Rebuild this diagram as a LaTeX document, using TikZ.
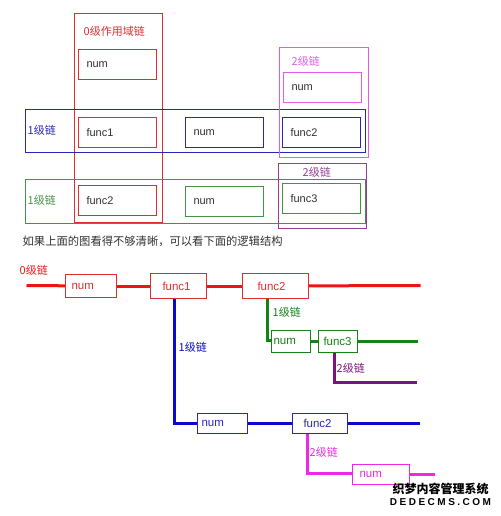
\documentclass[tikz,border=0pt]{standalone}
\usepackage{fontspec}
\setmainfont{Liberation Sans}
\newfontfamily\cjk{Noto Sans CJK SC}
\newfontfamily\wmfont[LetterSpace=25]{Liberation Sans}
\definecolor{rbox}{RGB}{225,45,50}
\definecolor{rline}{RGB}{238,20,20}
\definecolor{bbox}{RGB}{40,40,180}
\definecolor{bline}{RGB}{10,10,205}
\definecolor{gbox}{RGB}{70,145,70}
\definecolor{gline}{RGB}{20,130,20}
\definecolor{mbox}{RGB}{232,90,232}
\definecolor{mline}{RGB}{240,40,225}
\definecolor{pbox}{RGB}{150,60,150}
\definecolor{pline}{RGB}{125,20,125}
\definecolor{txt}{RGB}{50,50,50}
\begin{document}
\begin{tikzpicture}[x=1pt,y=-1pt,
  framebox/.style={draw=#1, line width=1pt, inner sep=0pt, anchor=north west},
  topbox/.style={draw=#1, fill=white, line width=1pt, inner xsep=8pt, inner ysep=0pt,
     minimum height=30pt, text width=62pt, align=left, font=\fontsize{11}{13}\selectfont, text=txt},
  sbox/.style n args={4}{draw=#1, fill=white, text=#1, line width=1pt, text width=#2, inner xsep=#3,
     inner ysep=0pt, minimum height=#4, align=left, font=\fontsize{11.5}{13}\selectfont},
  lbl/.style={font=\cjk\fontsize{11}{12}\selectfont, inner sep=0pt, anchor=west},
  chain/.style={line width=3pt, #1}
]
\useasboundingbox (0,0) rectangle (500,516);
\begin{scope}[shift={(0.5,0.5)}]
% ---------- upper picture ----------
\node[framebox=rbox, minimum width=88pt, minimum height=208pt] (f0) at (73,13) {};
\node[framebox=bbox, minimum width=340pt, minimum height=42pt] (f1b) at (24,109) {};
\node[framebox=gbox, minimum width=340pt, minimum height=44pt] (f1g) at (24,178) {};
\node[framebox=mbox, minimum width=89pt, minimum height=109pt] (f2m) at (278,47) {};
\node[framebox=pbox, minimum width=88pt, minimum height=65pt] (f2p) at (277,162) {};

\node[lbl, text=rbox] (t0) at (83,31) {0级作用域链};
\node[lbl, text=bbox] (t1b) at (27,130) {1级链};
\node[lbl, text=gbox] (t1g) at (27,200) {1级链};
\node[lbl, text=mbox] (t2m) at (291,61) {2级链};
\node[lbl, text=pbox] (t2p) at (302,172) {2级链};

\node[topbox=rbox] (a1) at (117,64) {num};
\node[topbox=rbox] (a2) at (117,132) {func1};
\node[topbox=bbox] (a3) at (224,132) {num};
\node[topbox=bbox] (a4) at (321,132) {func2};
\node[topbox=mbox] (a5) at (322,87) {num};
\node[topbox=rbox] (a6) at (117,200) {func2};
\node[topbox=gbox] (a7) at (224,201) {num};
\node[topbox=gbox] (a8) at (321,198) {func3};

\node[font=\cjk\fontsize{11.3}{13}\selectfont, text=txt, anchor=west, inner sep=0pt] (cap) at (22,241) {如果上面的图看得不够清晰，可以看下面的逻辑结构};

% ---------- lower picture ----------
\node[lbl, text=rline] (b0) at (19,270) {0级链};
\node[lbl, text=bline] (b1) at (178,347) {1级链};
\node[lbl, text=gline] (b2) at (272,312) {1级链};
\node[lbl, text=pline] (b3) at (336,368) {2级链};
\node[lbl, text=mline] (b4) at (309,452) {2级链};

\coordinate (r0) at (26,285);
\coordinate (r1) at (420,285);
\coordinate (bl1) at (419,423);
\coordinate (gl1) at (417,341);
\coordinate (pl1) at (416,382);
\coordinate (ml1) at (434,474);

\node[sbox={rbox}{39pt}{6pt}{23pt}] (rn) at (90.5,285.5) {num};
\node[sbox={rbox}{32pt}{12pt}{25pt}] (rf1) at (178,285.5) {func1};
\node[sbox={rbox}{36pt}{15pt}{25pt}] (rf2) at (275,285.5) {func2};
\node[sbox={bbox}{42pt}{4pt}{20pt}] (bn) at (222,423) {num};
\node[sbox={bbox}{33pt}{11pt}{20pt}] (bf2) at (319.5,423) {func2};
\node[sbox={gline}{35pt}{2pt}{22pt}] (gn) at (290.5,341) {num};
\node[sbox={gline}{29pt}{5pt}{22pt}] (gf3) at (337.5,341) {func3};
\node[sbox={mline}{43pt}{7pt}{20pt}] (mn) at (380.5,474) {num};

\draw[chain=rline] (r0) -- (rn);
\draw[chain=rline] (rn) -- (rf1);
\draw[chain=rline] (rf1) -- (rf2);
\draw[chain=rline] (rf2) -- (r1);
\draw[chain=bline] ([xshift=-4pt]rf1.south) |- (bn.west);
\draw[chain=bline] (bn) -- (bf2);
\draw[chain=bline] (bf2) -- (bl1);
\draw[chain=gline] ([xshift=-8pt]rf2.south) |- ([yshift=1.5pt]gn.west);
\draw[chain=gline] (gn) -- (gf3);
\draw[chain=gline] (gf3) -- (gl1);
\draw[chain=pline] ([xshift=-4pt]gf3.south) |- (pl1);
\draw[chain=mline] ([xshift=-13pt]bf2.south) |- ([yshift=1pt]mn.west);
\draw[chain=mline] (mn) -- (ml1);

% watermark
\node[font=\cjk\bfseries\fontsize{12}{14}\selectfont, inner sep=0pt] (wm1) at (440,488) {织梦内容管理系统};
\node[font=\wmfont\bfseries\fontsize{10}{12}\selectfont, inner sep=0pt] (wm2) at (440,502) {DEDECMS.COM};
\end{scope}
\end{tikzpicture}
\end{document}
